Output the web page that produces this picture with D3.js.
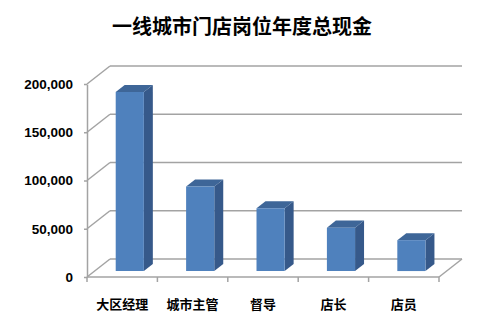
<!DOCTYPE html>
<html>
<head>
<meta charset="utf-8">
<script src="https://cdn.jsdelivr.net/npm/d3@7"></script>
<style>
  body { margin: 0; background: #fff; }
  svg { display: block; }
</style>
</head>
<body>
<script>
// data
const categories = ['大区经理', '城市主管', '督导', '店长', '店员'];
const values = [185500, 87500, 65000, 45000, 32000];
const yTicks = [0, 50000, 100000, 150000, 200000];

const width = 485, height = 327;
const svg = d3.select('body').append('svg')
  .attr('width', width)
  .attr('height', height);

// front plane of the 3D box, back plane is shifted by (depthX, -depthY)
const plotLeft = 87, plotRight = 439, plotBottom = 277, plotTop = 84;
const depthX = 23, depthY = 18;
const off = t => [depthX * t, -depthY * t];

const x = d3.scaleBand().domain(categories).range([plotLeft, plotRight]);
const y = d3.scaleLinear().domain([0, 200000]).range([plotBottom, plotTop]);

const grid = '#a3a3a3';

// title
svg.append('text')
  .attr('x', 242)
  .attr('y', 25)
  .attr('text-anchor', 'middle')
  .attr('dominant-baseline', 'central')
  .attr('font-family', '"Noto Sans CJK SC", sans-serif')
  .attr('font-weight', 'bold')
  .attr('font-size', 20)
  .text('一线城市门店岗位年度总现金');

// back wall gridlines + left wall diagonals
const walls = svg.append('g').attr('stroke', grid).attr('stroke-width', 1.5).attr('fill', 'none');
walls.selectAll('line.back')
  .data(yTicks)
  .enter()
  .append('line')
  .attr('class', 'back')
  .attr('x1', plotLeft + depthX)
  .attr('x2', plotRight + depthX)
  .attr('y1', d => y(d) - depthY)
  .attr('y2', d => y(d) - depthY);
walls.selectAll('line.side')
  .data(yTicks)
  .enter()
  .append('line')
  .attr('class', 'side')
  .attr('x1', plotLeft)
  .attr('x2', plotLeft + depthX)
  .attr('y1', d => y(d))
  .attr('y2', d => y(d) - depthY);
// floor: front edge and right edge
walls.append('line')
  .attr('x1', plotLeft).attr('x2', plotRight)
  .attr('y1', y(0)).attr('y2', y(0));
walls.append('line')
  .attr('x1', plotRight).attr('x2', plotRight + depthX)
  .attr('y1', y(0)).attr('y2', y(0) - depthY);

// category boundary ticks
walls.selectAll('line.xtick')
  .data(categories.map(c => x(c)).concat([plotRight]))
  .enter()
  .append('line')
  .attr('class', 'xtick')
  .attr('x1', d => d).attr('x2', d => d)
  .attr('y1', y(0)).attr('y2', y(0) + 5);

// y axis
const yAxis = svg.append('g')
  .attr('transform', `translate(${plotLeft},0)`)
  .call(d3.axisLeft(y).tickValues(yTicks).tickFormat(d3.format(',')).tickSize(3).tickSizeOuter(0).tickPadding(11));
yAxis.select('.domain').attr('stroke', grid).attr('stroke-width', 1.5);
yAxis.selectAll('.tick line').attr('stroke', grid).attr('stroke-width', 1.5);
yAxis.selectAll('text')
  .attr('font-family', '"Liberation Sans", Arial, sans-serif')
  .attr('font-weight', 'bold')
  .attr('font-size', 13.5)
  .attr('fill', '#000');

// 3D bars
const z0 = 0.33, z1 = 0.72;
const barFrac = 0.4;
const bars = svg.selectAll('g.bar')
  .data(categories.map((c, i) => ({ c, v: values[i] })))
  .enter()
  .append('g')
  .attr('class', 'bar');

const pt = (px, py, t) => [px + off(t)[0], py + off(t)[1]];
bars.each(function(d) {
  const g = d3.select(this);
  const bw = x.bandwidth() * barFrac;
  const x0 = x(d.c) + (x.bandwidth() - bw) / 2;
  const x1 = x0 + bw;
  const yb = y(0), yt = y(d.v);
  const poly = pts => pts.map(p => p.join(',')).join(' ');
  // side
  g.append('polygon')
    .attr('points', poly([pt(x1, yt, z0), pt(x1, yt, z1), pt(x1, yb, z1), pt(x1, yb, z0)]))
    .attr('fill', '#36598a');
  // top
  g.append('polygon')
    .attr('points', poly([pt(x0, yt, z0), pt(x0, yt, z1), pt(x1, yt, z1), pt(x1, yt, z0)]))
    .attr('fill', '#3e6698');
  // front
  g.append('polygon')
    .attr('points', poly([pt(x0, yt, z0), pt(x1, yt, z0), pt(x1, yb, z0), pt(x0, yb, z0)]))
    .attr('fill', '#4f81bd');
});

// category labels
svg.selectAll('text.cat')
  .data(categories)
  .enter()
  .append('text')
  .attr('class', 'cat')
  .attr('x', d => x(d) + x.bandwidth() / 2)
  .attr('y', y(0) + 26)
  .attr('text-anchor', 'middle')
  .attr('dominant-baseline', 'central')
  .attr('font-family', '"Noto Sans CJK SC", sans-serif')
  .attr('font-weight', 'bold')
  .attr('font-size', 13)
  .text(d => d);
</script>
</body>
</html>
